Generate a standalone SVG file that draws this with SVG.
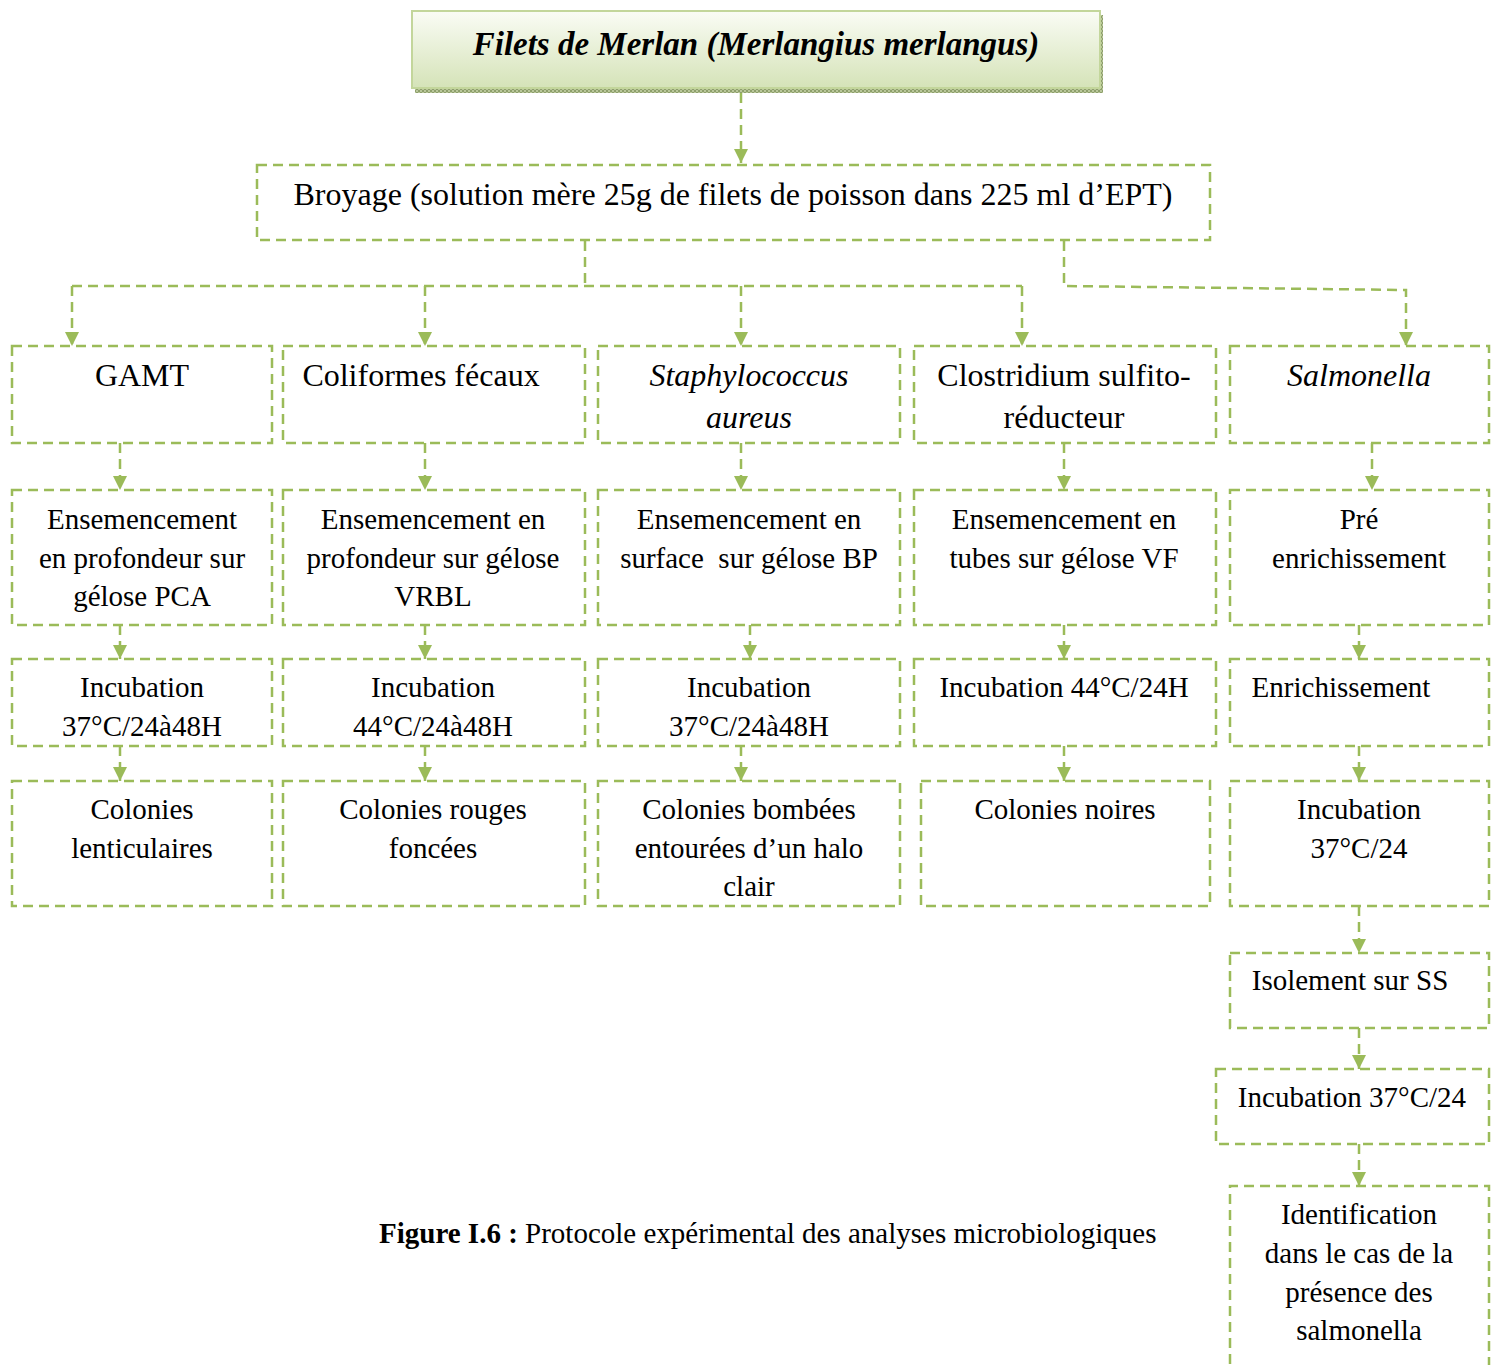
<svg xmlns="http://www.w3.org/2000/svg" width="1500" height="1365" viewBox="0 0 1500 1365">
<style>
.box{fill:none;stroke:#9BBB59;stroke-width:2.5;stroke-dasharray:10 6}
.ln{fill:none;stroke:#9BBB59;stroke-width:2.5;stroke-dasharray:10 6}
.t{font-family:"Liberation Serif","Times New Roman",serif;font-size:29px;fill:#000;text-anchor:middle}
.L{font-size:32px}
.i{font-style:italic}
.ttl{font-family:"Liberation Serif","Times New Roman",serif;font-size:33px;font-weight:bold;font-style:italic;fill:#000;text-anchor:middle}
</style>
<defs>
<linearGradient id="g" x1="0" y1="0" x2="0" y2="1">
<stop offset="0" stop-color="#fafcf5"/>
<stop offset="1" stop-color="#d5e3b8"/>
</linearGradient>
<pattern id="sh" width="4" height="4" patternUnits="userSpaceOnUse">
<rect width="4" height="4" fill="#b9c79a"/>
<rect width="2" height="2" fill="#8e9f6c"/>
<rect x="2" y="2" width="2" height="2" fill="#8e9f6c"/>
</pattern>
<marker id="a" markerUnits="userSpaceOnUse" markerWidth="14" markerHeight="14" viewBox="0 0 10 10" refX="10" refY="5" orient="auto">
<path d="M0,0 L10,5 L0,10 z" fill="#9BBB59"/>
</marker>
</defs>
<rect width="1500" height="1365" fill="#fff"/>

<g id="connectors">
<path class="ln" d="M741,93 V163" marker-end="url(#a)"/>
<path class="ln" d="M585,241 V286"/>
<path class="ln" d="M72,286 H1022"/>
<path class="ln" d="M72,286 V346" marker-end="url(#a)"/>
<path class="ln" d="M425,286 V346" marker-end="url(#a)"/>
<path class="ln" d="M741,286 V346" marker-end="url(#a)"/>
<path class="ln" d="M1022,286 V346" marker-end="url(#a)"/>
<path class="ln" d="M1064,241 V286 L1406,290 V346" marker-end="url(#a)"/>
<path class="ln" d="M120,443 V490" marker-end="url(#a)"/>
<path class="ln" d="M425,443 V490" marker-end="url(#a)"/>
<path class="ln" d="M741,443 V490" marker-end="url(#a)"/>
<path class="ln" d="M1064,443 V490" marker-end="url(#a)"/>
<path class="ln" d="M1372,443 V490" marker-end="url(#a)"/>
<path class="ln" d="M120,625 V659" marker-end="url(#a)"/>
<path class="ln" d="M425,625 V659" marker-end="url(#a)"/>
<path class="ln" d="M750,625 V659" marker-end="url(#a)"/>
<path class="ln" d="M1064,625 V659" marker-end="url(#a)"/>
<path class="ln" d="M1359,625 V659" marker-end="url(#a)"/>
<path class="ln" d="M120,746 V781" marker-end="url(#a)"/>
<path class="ln" d="M425,746 V781" marker-end="url(#a)"/>
<path class="ln" d="M741,746 V781" marker-end="url(#a)"/>
<path class="ln" d="M1064,746 V781" marker-end="url(#a)"/>
<path class="ln" d="M1359,746 V781" marker-end="url(#a)"/>
<path class="ln" d="M1359,906 V953" marker-end="url(#a)"/>
<path class="ln" d="M1359,1028 V1069" marker-end="url(#a)"/>
<path class="ln" d="M1359,1144 V1186" marker-end="url(#a)"/>
</g>

<g id="title">
<rect x="415" y="88" width="687" height="5" fill="url(#sh)"/>
<rect x="1100" y="15" width="3" height="78" fill="url(#sh)"/>
<rect x="412" y="11" width="688" height="77" fill="url(#g)" stroke="#c3d69b" stroke-width="2"/>
<text class="ttl" x="756" y="55">Filets de Merlan (Merlangius merlangus)</text>
</g>

<g id="broyage">
<rect class="box" x="257" y="165" width="953" height="75"/>
<text class="t L" x="733" y="205">Broyage (solution mère 25g de filets de poisson dans 225 ml d’EPT)</text>
</g>

<g id="gamt">
<rect class="box" x="12" y="346" width="260" height="97"/>
<text class="t L" x="142" y="386">GAMT</text>
</g>
<g id="coliformes">
<rect class="box" x="283" y="346" width="302" height="97"/>
<text class="t L" x="421" y="386">Coliformes fécaux</text>
</g>
<g id="staph">
<rect class="box" x="598" y="346" width="302" height="97"/>
<text class="t L i" x="749" y="386">Staphylococcus</text>
<text class="t L i" x="749" y="428">aureus</text>
</g>
<g id="clostridium">
<rect class="box" x="914" y="346" width="302" height="97"/>
<text class="t L" x="1064" y="386">Clostridium sulfito-</text>
<text class="t L" x="1064" y="428">réducteur</text>
</g>
<g id="salmonella">
<rect class="box" x="1230" y="346" width="259" height="97"/>
<text class="t L i" x="1359" y="386">Salmonella</text>
</g>

<g id="ens-gamt">
<rect class="box" x="12" y="490" width="260" height="135"/>
<text class="t" x="142" y="529">Ensemencement</text>
<text class="t" x="142" y="568">en profondeur sur</text>
<text class="t" x="142" y="606">gélose PCA</text>
</g>
<g id="ens-coli">
<rect class="box" x="283" y="490" width="302" height="135"/>
<text class="t" x="433" y="529">Ensemencement en</text>
<text class="t" x="433" y="568">profondeur sur gélose</text>
<text class="t" x="433" y="606">VRBL</text>
</g>
<g id="ens-staph">
<rect class="box" x="598" y="490" width="302" height="135"/>
<text class="t" x="749" y="529">Ensemencement en</text>
<text class="t" x="749" y="568" xml:space="preserve">surface  sur gélose BP</text>
</g>
<g id="ens-clos">
<rect class="box" x="914" y="490" width="302" height="135"/>
<text class="t" x="1064" y="529">Ensemencement en</text>
<text class="t" x="1064" y="568">tubes sur gélose VF</text>
</g>
<g id="pre-enrich">
<rect class="box" x="1230" y="490" width="259" height="135"/>
<text class="t" x="1359" y="529">Pré</text>
<text class="t" x="1359" y="568">enrichissement</text>
</g>

<g id="inc-gamt">
<rect class="box" x="12" y="659" width="260" height="87"/>
<text class="t" x="142" y="697">Incubation</text>
<text class="t" x="142" y="736">37°C/24à48H</text>
</g>
<g id="inc-coli">
<rect class="box" x="283" y="659" width="302" height="87"/>
<text class="t" x="433" y="697">Incubation</text>
<text class="t" x="433" y="736">44°C/24à48H</text>
</g>
<g id="inc-staph">
<rect class="box" x="598" y="659" width="302" height="87"/>
<text class="t" x="749" y="697">Incubation</text>
<text class="t" x="749" y="736">37°C/24à48H</text>
</g>
<g id="inc-clos">
<rect class="box" x="914" y="659" width="302" height="87"/>
<text class="t" x="1064" y="697">Incubation 44°C/24H</text>
</g>
<g id="enrich">
<rect class="box" x="1230" y="659" width="259" height="87"/>
<text class="t" x="1341" y="697">Enrichissement</text>
</g>

<g id="col-gamt">
<rect class="box" x="12" y="781" width="260" height="125"/>
<text class="t" x="142" y="819">Colonies</text>
<text class="t" x="142" y="858">lenticulaires</text>
</g>
<g id="col-coli">
<rect class="box" x="283" y="781" width="302" height="125"/>
<text class="t" x="433" y="819">Colonies rouges</text>
<text class="t" x="433" y="858">foncées</text>
</g>
<g id="col-staph">
<rect class="box" x="598" y="781" width="302" height="125"/>
<text class="t" x="749" y="819">Colonies bombées</text>
<text class="t" x="749" y="858">entourées d’un halo</text>
<text class="t" x="749" y="896">clair</text>
</g>
<g id="col-clos">
<rect class="box" x="921" y="781" width="289" height="125"/>
<text class="t" x="1065" y="819">Colonies noires</text>
</g>
<g id="inc-salm">
<rect class="box" x="1230" y="781" width="259" height="125"/>
<text class="t" x="1359" y="819">Incubation</text>
<text class="t" x="1359" y="858">37°C/24</text>
</g>

<g id="isolement">
<rect class="box" x="1230" y="953" width="259" height="75"/>
<text class="t" x="1350" y="990">Isolement sur SS</text>
</g>
<g id="inc-salm2">
<rect class="box" x="1216" y="1069" width="273" height="75"/>
<text class="t" x="1352" y="1107">Incubation 37°C/24</text>
</g>
<g id="identification">
<path class="box" d="M1230,1380 V1186 H1489 V1380"/>
<text class="t" x="1359" y="1224">Identification</text>
<text class="t" x="1359" y="1263">dans le cas de la</text>
<text class="t" x="1359" y="1302">présence des</text>
<text class="t" x="1359" y="1340">salmonella</text>
</g>

<g id="caption">
<text class="t" x="379" y="1243" style="text-anchor:start"><tspan font-weight="bold">Figure I.6 :</tspan> Protocole expérimental des analyses microbiologiques</text>
</g>
</svg>
